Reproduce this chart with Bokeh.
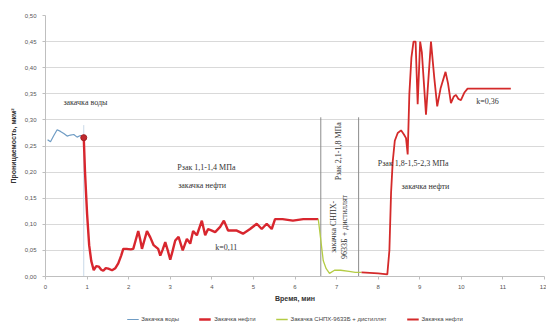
import math
from bokeh.plotting import figure
from bokeh.layouts import column
from bokeh.models import Legend, LegendItem, FixedTicker, Range1d
from bokeh.core.properties import value
from bokeh.embed import file_html
from bokeh.resources import INLINE

# ---- data ----
water_x = [0.05, 0.12, 0.20, 0.28, 0.36, 0.44, 0.52, 0.60, 0.68, 0.76, 0.84, 0.92]
water_y = [0.262, 0.258, 0.270, 0.281, 0.278, 0.274, 0.269, 0.271, 0.272, 0.267, 0.270, 0.266]

oil1_x = [0.92, 0.95, 1.00, 1.05, 1.10, 1.16, 1.22, 1.28, 1.34, 1.39, 1.45, 1.51, 1.60, 1.68,
          1.75, 1.82, 1.87, 1.95, 2.05, 2.11, 2.17, 2.23, 2.28, 2.32, 2.38, 2.44, 2.52, 2.60,
          2.71, 2.76, 2.82, 2.88, 2.94, 3.00, 3.06, 3.12, 3.20, 3.30, 3.40, 3.48, 3.55, 3.64,
          3.76, 3.84, 3.91, 4.00, 4.08, 4.20, 4.29, 4.39, 4.50, 4.60, 4.75, 4.92, 5.08, 5.20,
          5.32, 5.44, 5.52, 5.70, 5.95, 6.20, 6.56]
oil1_y = [0.266, 0.200, 0.120, 0.060, 0.030, 0.012, 0.020, 0.019, 0.013, 0.011, 0.016, 0.015,
          0.012, 0.016, 0.025, 0.040, 0.053, 0.053, 0.052, 0.053, 0.070, 0.087, 0.070, 0.053,
          0.070, 0.087, 0.075, 0.060, 0.053, 0.040, 0.052, 0.066, 0.050, 0.032, 0.050, 0.069,
          0.076, 0.050, 0.072, 0.063, 0.087, 0.079, 0.107, 0.079, 0.091, 0.088, 0.085, 0.095,
          0.107, 0.088, 0.088, 0.088, 0.082, 0.091, 0.101, 0.091, 0.101, 0.091, 0.110, 0.110,
          0.107, 0.110, 0.110]

chem_x = [6.56, 6.62, 6.68, 6.75, 6.83, 6.95, 7.10, 7.30, 7.45, 7.60]
chem_y = [0.110, 0.070, 0.030, 0.015, 0.006, 0.012, 0.012, 0.010, 0.008, 0.008]

oil2_x = [7.60, 7.80, 8.00, 8.22, 8.27, 8.31, 8.35, 8.40, 8.47, 8.55, 8.62, 8.67, 8.71,
          8.75, 8.80, 8.85, 8.90, 8.95, 9.01, 9.05, 9.15, 9.27, 9.35, 9.42, 9.50, 9.62, 9.68,
          9.75, 9.82, 9.87, 9.93, 9.99, 10.07, 10.15, 10.50, 11.19]
oil2_y = [0.008, 0.007, 0.006, 0.004, 0.050, 0.160, 0.220, 0.260, 0.275, 0.280, 0.272, 0.265,
          0.234, 0.350, 0.420, 0.450, 0.450, 0.330, 0.450, 0.430, 0.310, 0.450, 0.380, 0.326,
          0.360, 0.392, 0.370, 0.332, 0.345, 0.348, 0.340, 0.338, 0.352, 0.360, 0.360, 0.360]

marker_x = [0.92]
marker_y = [0.266]

x_ticks = list(range(0, 13))
x_tick_labels = [str(v) for v in x_ticks]
y_ticks = [0.00, 0.05, 0.10, 0.15, 0.20, 0.25, 0.30, 0.35, 0.40, 0.45, 0.50]
y_tick_labels = ["0,00", "0,05", "0,10", "0,15", "0,20", "0,25", "0,30", "0,35", "0,40", "0,45", "0,50"]

legend_labels = ["Закачка воды", "Закачка нефти", "Закачка СНПХ-9633Б + дистиллят", "Закачка нефти"]

ann_x = [0.43, 3.17, 3.19, 4.08, 7.99, 8.56, 10.36]
ann_y = [0.333, 0.209, 0.175, 0.055, 0.217, 0.173, 0.335]
ann_t = ["закачка воды", "Pзак 1,1-1,4 МПа", "закачка нефти", "k=0,11",
         "Pзак 1,8-1,5-2,3 МПа", "закачка нефти", "k=0,36"]

rot_x = [6.93, 7.20, 7.05]
rot_y = [0.095, 0.095, 0.240]
rot_t = ["закачка СНПХ-", "9633Б + дистиллят", "Pзак 2,1-1,8 МПа"]

vline_x = [6.62, 7.53]
vline_top = [0.305, 0.305]
wline_x = [0.92]
wline_top = [0.29]

COL_WATER, COL_OIL1, COL_CHEM, COL_OIL2 = "#6f9cc4", "#d8262e", "#b4cc44", "#d42a2a"
W_WATER, W_OIL1, W_CHEM, W_OIL2 = 1.2, 2.4, 1.3, 1.8

# ---- main figure ----
p = figure(width=546, height=304, output_backend="svg", toolbar_location=None,
           x_range=Range1d(0, 12), y_range=Range1d(0, 0.5),
           min_border_left=45, min_border_right=2, min_border_top=15, min_border_bottom=0)
p.outline_line_color = None
p.background_fill_color = "white"

p.xgrid.grid_line_color = None
p.ygrid.grid_line_color = "#d9d9d9"
p.ygrid.grid_line_width = 1

p.xaxis.ticker = FixedTicker(ticks=x_ticks)
p.yaxis.ticker = FixedTicker(ticks=y_ticks)
p.xaxis.major_label_overrides = {v: s for v, s in zip(x_ticks, x_tick_labels)}
p.yaxis.major_label_overrides = {v: s for v, s in zip(y_ticks, y_tick_labels)}

for ax in (p.xaxis, p.yaxis):
    ax.axis_line_color = "#bfbfbf"
    ax.major_tick_line_color = "#bfbfbf"
    ax.minor_tick_line_color = None
    ax.major_tick_in = 0
    ax.major_tick_out = 3
    ax.major_label_text_font = "Liberation Sans"
    ax.major_label_text_font_size = "6px"
    ax.major_label_text_color = "#555555"
    ax.axis_label_text_font = "Liberation Sans"
    ax.axis_label_text_font_size = "7px"
    ax.axis_label_text_font_style = "bold"
    ax.axis_label_text_color = "#333333"

p.yaxis.major_label_standoff = 6
p.yaxis.axis_label_standoff = 5
p.xaxis.major_label_standoff = 5
p.xaxis.axis_label_standoff = 3
p.xaxis.axis_label = "Время, мин"
p.yaxis.axis_label = "Проницаемость, мкм²"

# vertical guide lines
p.segment(x0=vline_x, y0=[0, 0], x1=vline_x, y1=vline_top, line_color="#8c8c8c", line_width=1)
p.segment(x0=wline_x, y0=[0], x1=wline_x, y1=wline_top, line_color="#c9d9e8", line_width=1)

p.line(water_x, water_y, line_color=COL_WATER, line_width=W_WATER)
p.line(oil1_x, oil1_y, line_color=COL_OIL1, line_width=W_OIL1)
p.line(chem_x, chem_y, line_color=COL_CHEM, line_width=W_CHEM)
p.line(oil2_x, oil2_y, line_color=COL_OIL2, line_width=W_OIL2)
p.scatter(marker_x, marker_y, size=6, fill_color="#c0282d", line_color="#a01e22")

p.text(x=ann_x, y=ann_y, text=ann_t, text_font=value("Liberation Serif"),
       text_font_size="8px", text_color="#333333", text_align="left", text_baseline="middle")
p.text(x=rot_x, y=rot_y, text=rot_t, angle=math.pi / 2, text_font=value("Liberation Serif"),
       text_font_size="8px", text_color="#333333", text_align="center", text_baseline="middle")

# ---- legend strip (series drawn out of view so only their legend glyphs show) ----
q = figure(width=546, height=18, output_backend="svg", toolbar_location=None,
           x_range=Range1d(0, 12), y_range=Range1d(5, 6), min_border=0)
q.outline_line_color = None
q.axis.visible = False
q.grid.grid_line_color = None
lr = [
    q.line(water_x, water_y, line_color=COL_WATER, line_width=W_WATER),
    q.line(oil1_x, oil1_y, line_color=COL_OIL1, line_width=W_OIL1),
    q.line(chem_x, chem_y, line_color=COL_CHEM, line_width=W_CHEM),
    q.line(oil2_x, oil2_y, line_color=COL_OIL2, line_width=W_OIL2),
]
legend = Legend(items=[LegendItem(label=lab, renderers=[r]) for lab, r in zip(legend_labels, lr)],
                orientation="horizontal", location="bottom_center")
legend.label_text_font = "Liberation Sans"
legend.label_text_font_size = "6px"
legend.label_text_color = "#444444"
legend.glyph_width = 12
legend.glyph_height = 6
legend.label_height = 6
legend.label_standoff = 3
legend.spacing = 20
legend.padding = 1
legend.margin = 0
legend.border_line_color = None
legend.background_fill_alpha = 0
q.add_layout(legend, "center")

layout = column(p, q, spacing=0)
open("out.html", "w").write(file_html(layout, INLINE))
